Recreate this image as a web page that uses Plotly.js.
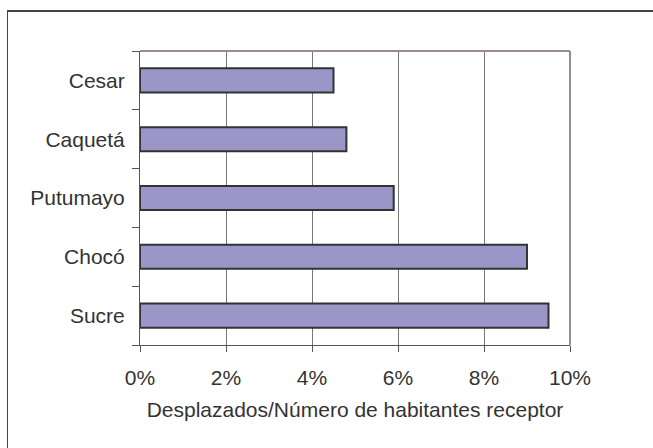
<!DOCTYPE html>
<html>
<head>
<meta charset="utf-8">
<script src="https://cdn.plot.ly/plotly-3.0.1.min.js"></script>
<style>
html,body{margin:0;padding:0;background:#fff;overflow:hidden;width:653px;height:448px;}
#wrap{position:relative;width:653px;height:448px;overflow:hidden;}
#chart{width:653px;height:448px;}
#frame{position:absolute;left:7px;top:10px;width:700px;height:500px;border-left:1.5px solid #444;border-top:2px solid #444;pointer-events:none;}
</style>
</head>
<body>
<div id="wrap"><div id="chart"></div><div id="frame"></div></div>
<script>
const categories = ["Sucre", "Chocó", "Putumayo", "Caquetá", "Cesar"];
const values = [0.095, 0.090, 0.059, 0.048, 0.045];
const xTickVals = [0, 0.02, 0.04, 0.06, 0.08, 0.10];
const xTickText = ["0%", "2%", "4%", "6%", "8%", "10%"];
const xTitle = "Desplazados/Número de habitantes receptor";

const trace = {
  type: "bar",
  orientation: "h",
  y: categories,
  x: values,
  marker: {color: "#9b96c8", line: {color: "#333333", width: 2}},
  hoverinfo: "x+y"
};

const layout = {
  width: 653, height: 448,
  margin: {l: 140, r: 83, t: 51, b: 103},
  paper_bgcolor: "#ffffff", plot_bgcolor: "#ffffff",
  font: {family: "'Liberation Sans', Arial, sans-serif", size: 21, color: "#333333"},
  showlegend: false,
  bargap: 0.59,
  xaxis: {
    range: [0, 0.10], tickvals: xTickVals, ticktext: xTickText,
    showgrid: true, gridcolor: "#777777", gridwidth: 1,
    zeroline: false, showline: true, linecolor: "#555555", linewidth: 1,
    ticks: "outside", ticklen: 6, tickcolor: "#555555",
    ticklabelstandoff: 8,
    title: {text: xTitle, font: {size: 21, color: "#333333"}, standoff: 14},
    fixedrange: true
  },
  yaxis: {
    categoryorder: "array", categoryarray: categories,
    showgrid: false, zeroline: false, showline: true, linecolor: "#555555", linewidth: 1,
    ticks: "outside", tickson: "boundaries", ticklen: 7, tickcolor: "#555555",
    ticklabelstandoff: 10,
    fixedrange: true
  },
  shapes: [
    {type: "line", xref: "paper", yref: "paper", x0: 0, x1: 1, y0: 1, y1: 1, line: {color: "#9a8c8a", width: 2}},
    {type: "line", xref: "paper", yref: "paper", x0: 1, x1: 1, y0: 0, y1: 1, line: {color: "#9a8c8a", width: 2}}
  ]
};

Plotly.newPlot("chart", [trace], layout, {displayModeBar: false, staticPlot: true});
</script>
</body>
</html>
